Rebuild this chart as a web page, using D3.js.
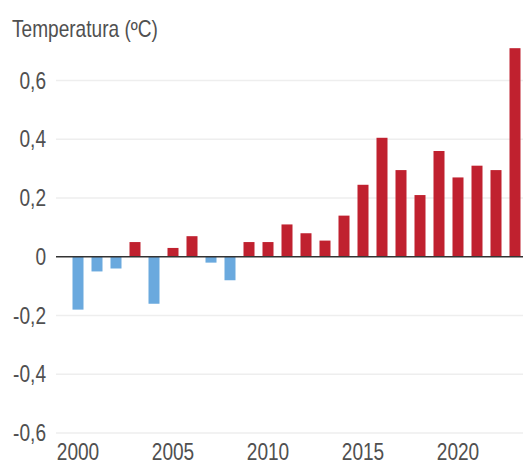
<!DOCTYPE html>
<html>
<head>
<meta charset="utf-8">
<script src="https://cdn.jsdelivr.net/npm/d3@7"></script>
<style>
  html, body { margin: 0; padding: 0; background: #fff; }
  text { font-family: "Liberation Sans", Arial, sans-serif; fill: #505050; }
</style>
</head>
<body>
<svg id="chart" width="523" height="469"></svg>
<script>
var years = d3.range(2000, 2024);
var anomalies = [-0.18, -0.05, -0.04, 0.05, -0.16, 0.03, 0.07, -0.02, -0.08, 0.05,
                 0.05, 0.11, 0.08, 0.055, 0.14, 0.245, 0.405, 0.295, 0.21, 0.36,
                 0.27, 0.31, 0.295, 0.71];
var yTicks = [-0.6, -0.4, -0.2, 0, 0.2, 0.4, 0.6];
var xTicks = [2000, 2005, 2010, 2015, 2020];

var warm = "#c0212f", cool = "#6aa9de";
var narrow = 0.83; // no narrow font installed, squeeze the glyphs instead

var svg = d3.select("#chart");

var x = d3.scaleLinear().domain([2000, 2023]).range([78, 515]);
var y = d3.scaleLinear().domain([-0.6, 0.6]).range([433, 80.5]);
var barW = 11;

var fmt = function(d) { return d === 0 ? "0" : d3.format(".1f")(d).replace(".", ",").replace("\u2212", "-"); };

// gridlines
svg.append("g").selectAll("line")
  .data(yTicks.filter(function(d) { return d !== 0; }))
  .enter().append("line")
  .attr("x1", 56).attr("x2", 523)
  .attr("y1", function(d) { return y(d); })
  .attr("y2", function(d) { return y(d); })
  .attr("stroke", "#eeeeee").attr("stroke-width", 1.5);

// y labels
svg.append("g").selectAll("text")
  .data(yTicks)
  .enter().append("text")
  .attr("transform", function(d) { return "translate(46," + y(d) + ") scale(" + narrow + ",1)"; })
  .attr("dy", "0.35em")
  .attr("text-anchor", "end")
  .style("font-size", "23px")
  .text(fmt);

// bars
svg.append("g").selectAll("rect")
  .data(years)
  .enter().append("rect")
  .attr("x", function(d) { return x(d) - barW / 2; })
  .attr("width", barW)
  .attr("y", function(d, i) { return y(Math.max(0, anomalies[i])); })
  .attr("height", function(d, i) { return Math.abs(y(anomalies[i]) - y(0)); })
  .attr("fill", function(d, i) { return anomalies[i] >= 0 ? warm : cool; });

// zero line
svg.append("line")
  .attr("x1", 56).attr("x2", 523)
  .attr("y1", y(0)).attr("y2", y(0))
  .attr("stroke", "#333").attr("stroke-width", 1.5);

// x labels
svg.append("g").selectAll("text")
  .data(xTicks)
  .enter().append("text")
  .attr("transform", function(d) { return "translate(" + x(d) + ",460) scale(" + narrow + ",1)"; })
  .attr("text-anchor", "middle")
  .style("font-size", "23px")
  .text(function(d) { return d; });

// title
svg.append("text")
  .attr("transform", "translate(12,37) scale(" + narrow + ",1)")
  .style("font-size", "23px")
  .text("Temperatura (ºC)");
</script>
</body>
</html>
